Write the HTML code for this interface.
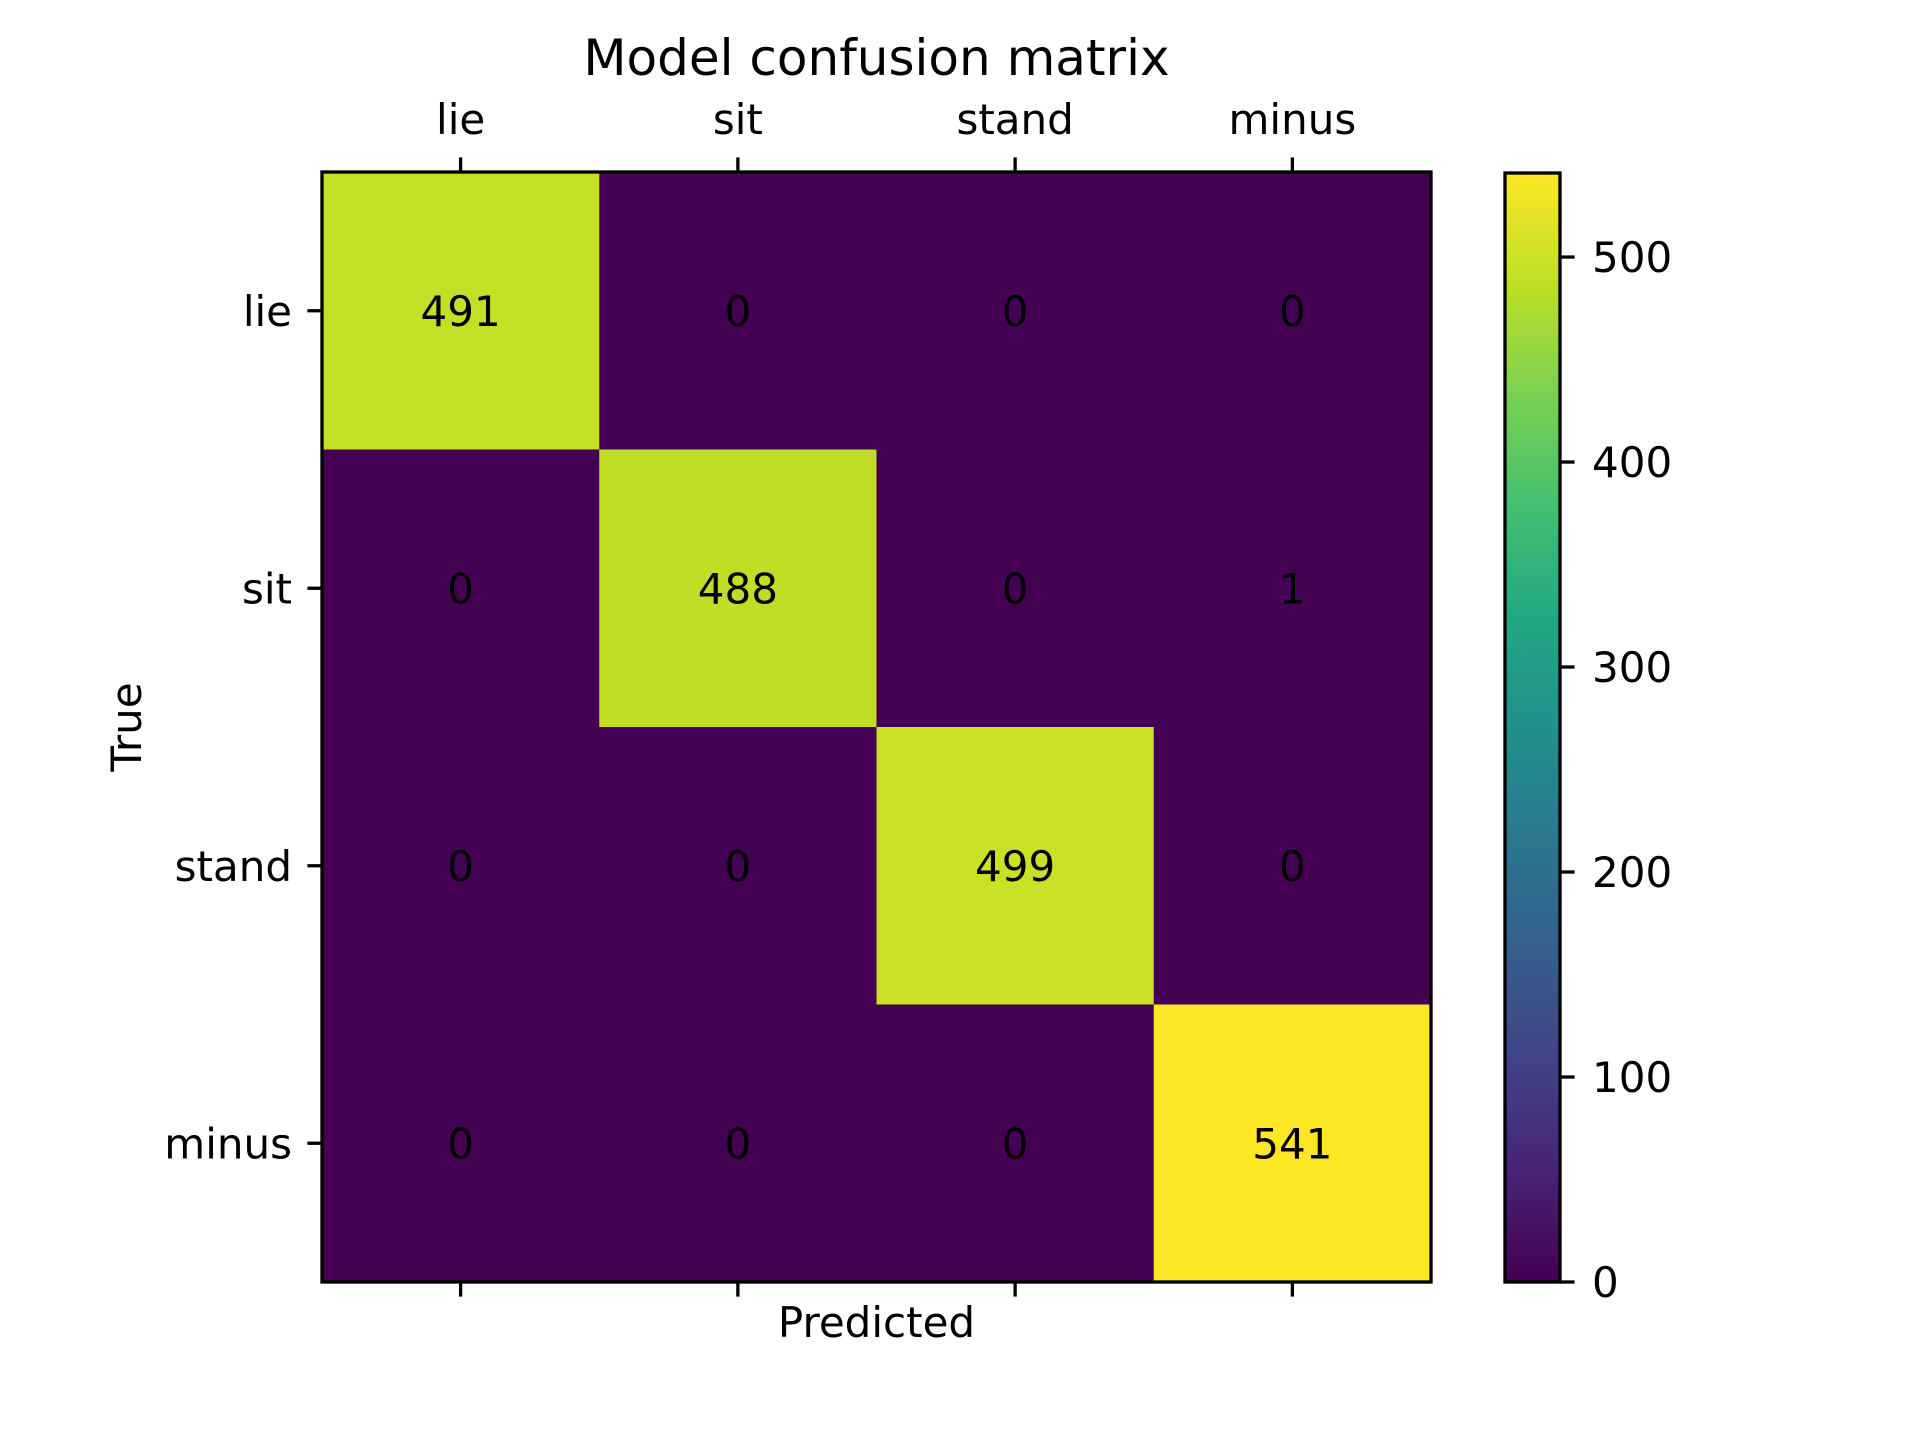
<!DOCTYPE html>
<html><head><meta charset="utf-8"><style>
html,body{margin:0;padding:0;background:#fff;}
svg text{font-family:"DejaVu Sans","Liberation Sans",sans-serif;fill:#000;}
</style></head><body>
<svg id="chart" width="1920" height="1440" viewBox="0 0 1920 1440" xmlns="http://www.w3.org/2000/svg">
<defs>
<linearGradient id="viridis" x1="0" y1="1" x2="0" y2="0">
<stop offset="0" stop-color="#440154"/><stop offset="0.1" stop-color="#482475"/>
<stop offset="0.2" stop-color="#414487"/><stop offset="0.3" stop-color="#355f8d"/>
<stop offset="0.4" stop-color="#2a788e"/><stop offset="0.5" stop-color="#21918c"/>
<stop offset="0.6" stop-color="#22a884"/><stop offset="0.7" stop-color="#44bf70"/>
<stop offset="0.8" stop-color="#7ad151"/><stop offset="0.9" stop-color="#bddf26"/>
<stop offset="1" stop-color="#fde725"/>
</linearGradient>
</defs>
<g id="cells"></g>
<g id="axes"></g>
</svg>
<script>
const categories = ["lie","sit","stand","minus"];
const matrixValues = [
  [491,0,0,0],
  [0,488,0,1],
  [0,0,499,0],
  [0,0,0,541]
];
const colorbarTicks = [0,100,200,300,400,500];

const NS="http://www.w3.org/2000/svg";
const L=322,T=172,R=1431,B=1282;
const n=categories.length;
const cw=(R-L)/n, ch=(B-T)/n;
let vmax=-Infinity, vmin=Infinity;
matrixValues.forEach(r=>r.forEach(v=>{vmax=Math.max(vmax,v);vmin=Math.min(vmin,v);}));
const xPos=i=>L+cw*(i+0.5);
const yPos=i=>T+ch*(i+0.5);
const stops=["#440154","#482475","#414487","#355f8d","#2a788e","#21918c","#22a884","#44bf70","#7ad151","#bddf26","#fde725"];
function viridis(t){
  t=Math.max(0,Math.min(1,t));
  const p=t*10,i=Math.min(9,Math.floor(p)),f=p-i;
  const a=stops[i],b=stops[i+1];
  const c=k=>Math.round(parseInt(a.substr(k,2),16)*(1-f)+parseInt(b.substr(k,2),16)*f);
  return `rgb(${c(1)},${c(3)},${c(5)})`;
}
function mk(tag,attrs,parent,text){
  const e=document.createElementNS(NS,tag);
  for(const k in attrs)e.setAttribute(k,attrs[k]);
  if(text!==undefined)e.textContent=text;
  parent.appendChild(e);return e;
}
const cells=document.getElementById('cells');
const axes=document.getElementById('axes');
const FS=42;
matrixValues.forEach((row,r)=>row.forEach((v,c)=>{
  const rect=mk('rect',{x:L+c*cw,y:T+r*ch,width:cw+0.5,height:ch+0.5,fill:viridis((v-vmin)/(vmax-vmin))},cells);
  
  
  const t=mk('text',{x:xPos(c),y:yPos(r)+15,'text-anchor':'middle','font-size':FS},cells,String(v));
  
  
}));
const frame=mk('rect',{x:L,y:T,width:R-L,height:B-T,fill:'none',stroke:'#000','stroke-width':3.3},axes);


categories.forEach((c,i)=>{
  mk('line',{x1:xPos(i),x2:xPos(i),y1:T,y2:T-14.6,stroke:'#000','stroke-width':3.3},axes);
  mk('line',{x1:xPos(i),x2:xPos(i),y1:B,y2:B+14.6,stroke:'#000','stroke-width':3.3},axes);
  mk('line',{x1:L,x2:L-14.6,y1:yPos(i),y2:yPos(i),stroke:'#000','stroke-width':3.3},axes);
  const tx=mk('text',{x:xPos(i),y:134,'text-anchor':'middle','font-size':FS},axes,c);
  
  
  const ty=mk('text',{x:292,y:yPos(i)+15,'text-anchor':'end','font-size':FS},axes,c);
  
  
});
const title=mk('text',{x:(L+R)/2,y:75,'text-anchor':'middle','font-size':50},axes,'Model confusion matrix');


const xl=mk('text',{x:(L+R)/2,y:1337,'text-anchor':'middle','font-size':FS},axes,'Predicted');


const yl=mk('text',{x:0,y:0,'text-anchor':'middle','font-size':FS,transform:`translate(141,${(T+B)/2}) rotate(-90)`},axes,'True');


// colorbar
const CL=1505,CR=1560,CT=173,CB=1282;
const cb=mk('rect',{x:CL,y:CT,width:CR-CL,height:CB-CT,fill:'url(#viridis)',stroke:'#000','stroke-width':3.3},axes);


const cy=v=>CB-(v-vmin)/(vmax-vmin)*(CB-CT);
colorbarTicks.forEach(v=>{
  mk('line',{x1:CR,x2:CR+14.6,y1:cy(v),y2:cy(v),stroke:'#000','stroke-width':3.3},axes);
  const t=mk('text',{x:1592,y:cy(v)+15,'font-size':FS},axes,String(v));
  
  
});
</script>
</body></html>
